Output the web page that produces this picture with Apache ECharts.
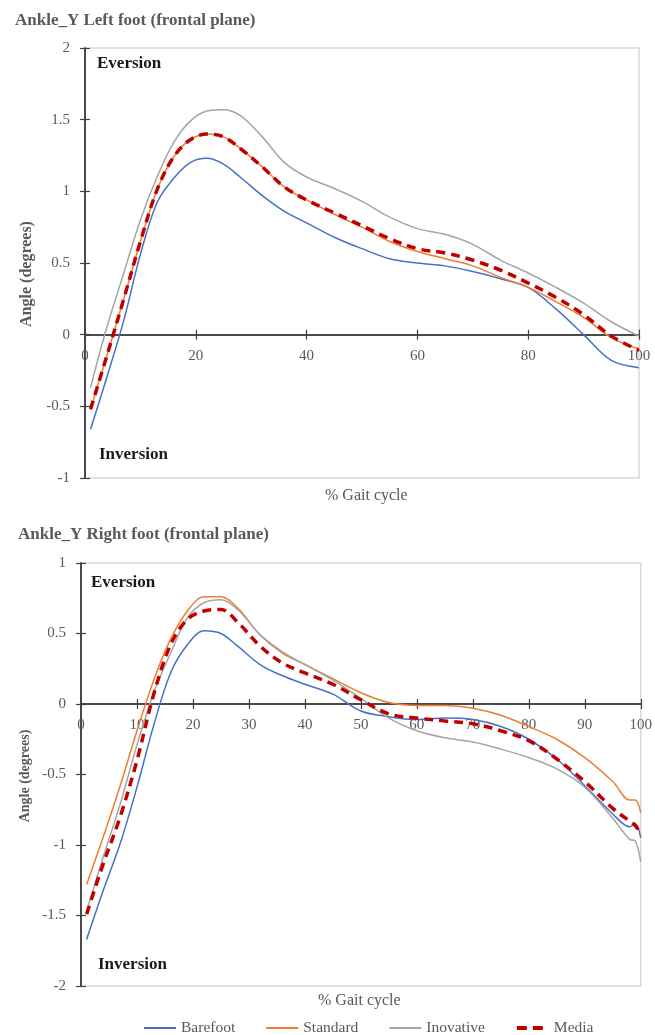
<!DOCTYPE html>
<html>
<head>
<meta charset="utf-8">
<script src="https://cdn.jsdelivr.net/npm/echarts@6/dist/echarts.min.js"></script>
<style>
html, body { margin: 0; padding: 0; background: #fff; }
#chart { width: 655px; height: 1035px; }
</style>
</head>
<body>
<div id="chart"></div>
<script>
// % gait cycle sample points
var gaitTop = [1, 4, 7, 10, 13, 16, 19, 22, 25, 28, 32, 36, 40, 45, 50, 55, 60, 65, 70, 75, 80, 85, 90, 95, 100];
var gaitBottom = [1, 4, 7, 10, 13, 16, 19, 22, 25, 28, 32, 36, 40, 45, 50, 55, 60, 65, 70, 75, 80, 85, 90, 95, 98, 99, 100];

// left foot (degrees)
var leftBarefoot = [-0.66, -0.29, 0.10, 0.56, 0.92, 1.09, 1.20, 1.23, 1.19, 1.10, 0.97, 0.86, 0.78, 0.68, 0.60, 0.53, 0.50, 0.48, 0.44, 0.39, 0.33, 0.18, 0.00, -0.18, -0.23];
var leftStandard = [-0.52, -0.14, 0.25, 0.65, 1.01, 1.24, 1.36, 1.40, 1.38, 1.30, 1.17, 1.03, 0.94, 0.84, 0.75, 0.65, 0.58, 0.53, 0.48, 0.40, 0.33, 0.23, 0.12, -0.02, -0.10];
var leftInovative = [-0.37, 0.06, 0.43, 0.80, 1.10, 1.34, 1.49, 1.56, 1.57, 1.53, 1.38, 1.20, 1.10, 1.02, 0.93, 0.82, 0.74, 0.70, 0.63, 0.52, 0.43, 0.33, 0.22, 0.09, -0.01];
var leftMedia = [-0.52, -0.14, 0.25, 0.65, 1.01, 1.24, 1.36, 1.40, 1.38, 1.30, 1.17, 1.03, 0.94, 0.85, 0.76, 0.67, 0.60, 0.57, 0.52, 0.45, 0.36, 0.26, 0.14, -0.01, -0.11];

// right foot (degrees)
var rightBarefoot = [-1.67, -1.32, -0.99, -0.59, -0.15, 0.22, 0.42, 0.52, 0.50, 0.41, 0.28, 0.20, 0.14, 0.07, -0.05, -0.09, -0.11, -0.10, -0.11, -0.16, -0.25, -0.39, -0.58, -0.78, -0.87, -0.85, -0.95];
var rightStandard = [-1.28, -0.94, -0.58, -0.19, 0.17, 0.46, 0.66, 0.76, 0.76, 0.68, 0.49, 0.36, 0.28, 0.18, 0.08, 0.01, -0.01, -0.01, -0.03, -0.08, -0.16, -0.25, -0.38, -0.55, -0.68, -0.68, -0.77];
var rightInovative = [-1.47, -1.08, -0.71, -0.29, 0.08, 0.36, 0.61, 0.72, 0.74, 0.67, 0.49, 0.37, 0.28, 0.17, 0.04, -0.10, -0.19, -0.24, -0.27, -0.32, -0.38, -0.46, -0.59, -0.81, -0.96, -0.97, -1.12];
var rightMedia = [-1.49, -1.13, -0.80, -0.40, 0.07, 0.42, 0.60, 0.66, 0.67, 0.58, 0.41, 0.29, 0.22, 0.14, 0.03, -0.07, -0.10, -0.12, -0.14, -0.19, -0.26, -0.39, -0.55, -0.74, -0.83, -0.86, -0.92];

var names = ['Barefoot', 'Standard', 'Inovative', 'Media'];
var colors = ['#4472C4', '#ED7D31', '#A5A5A5', '#C00000'];

var font = 'Liberation Serif';
var grey = '#595959';
var axisDark = '#404040';

// grid boxes (px) and where y = 0 sits above the bottom edge
var grids = [
    { left: 85, right: 16, top: 48, height: 430, zeroUp: 430 / 3 },
    { left: 81, right: 8, top: 563, height: 423, zeroUp: 423 * 2 / 3 }
];

function pairs(xs, ys) {
    return xs.map(function (x, i) { return [x, ys[i]]; });
}

function makeSeries(gridIdx, xs, lists) {
    return lists.map(function (ys, i) {
        var isMedia = i === 3;
        return {
            name: names[i],
            type: 'line',
            xAxisIndex: gridIdx * 2,
            yAxisIndex: gridIdx * 2,
            data: pairs(xs, ys),
            smooth: 0.35,
            showSymbol: false,
            symbol: 'none',
            color: colors[i],
            lineStyle: {
                color: colors[i],
                width: isMedia ? 3.5 : 1.5,
                type: isMedia ? [9, 6] : 'solid'
            },
            z: isMedia ? 5 : 3
        };
    });
}

// x axis drawn across y = 0 (offset up from the bottom edge)
function xAxes(gridIdx, interval, overlay) {
    return {
        type: 'value',
        gridIndex: gridIdx,
        position: 'bottom',
        offset: -grids[gridIdx].zeroUp,
        min: 0,
        max: 100,
        interval: interval,
        splitLine: { show: false },
        axisLine: { show: true, onZero: false, lineStyle: { color: axisDark, width: 1.5 } },
        axisTick: { show: true, inside: overlay, length: 5, lineStyle: { color: axisDark, width: 1.2 } },
        axisLabel: {
            show: !overlay,
            color: grey,
            fontFamily: font,
            fontSize: 15,
            margin: 14,
            showMinLabel: true,
            showMaxLabel: true
        }
    };
}

function yAxes(gridIdx, min, max, overlay) {
    return {
        type: 'value',
        gridIndex: gridIdx,
        position: 'left',
        min: min,
        max: max,
        interval: 0.5,
        splitLine: { show: false },
        axisLine: { show: true, onZero: false, lineStyle: { color: axisDark, width: 1.5 } },
        axisTick: { show: true, inside: overlay, length: 5, lineStyle: { color: axisDark, width: 1.2 } },
        axisLabel: { show: !overlay, color: grey, fontFamily: font, fontSize: 15, margin: 15 }
    };
}

function label(text, left, top, size, color, weight) {
    return {
        text: text,
        left: left,
        top: top,
        textStyle: { fontFamily: font, fontWeight: weight || 'bold', fontSize: size, color: color }
    };
}

function yName(x, y, size) {
    return {
        type: 'text',
        x: x,
        y: y,
        rotation: Math.PI / 2,
        style: {
            text: 'Angle (degrees)',
            fill: grey,
            font: 'bold ' + size + 'px "' + font + '"',
            align: 'center',
            verticalAlign: 'middle'
        }
    };
}

var chart = echarts.init(document.getElementById('chart'), null, { renderer: 'canvas' });

var option = {
    animation: false,
    backgroundColor: '#fff',
    title: [
        label('Ankle_Y Left foot (frontal plane)', 10, 7, 17, grey),
        label('Eversion', 92, 50, 17, '#1a1a1a'),
        label('Inversion', 94, 441, 17, '#1a1a1a'),
        label('% Gait cycle', 320, 483, 16, grey, 'normal'),
        label('Ankle_Y Right foot (frontal plane)', 13, 521, 17, grey),
        label('Eversion', 86, 569, 17, '#1a1a1a'),
        label('Inversion', 93, 951, 17, '#1a1a1a'),
        label('% Gait cycle', 313, 988, 16, grey, 'normal')
    ],
    graphic: [
        yName(27, 274, 16),
        yName(25, 776, 14)
    ],
    legend: {
        data: [
            { name: 'Barefoot' },
            { name: 'Standard' },
            { name: 'Inovative' },
            { name: 'Media', lineStyle: { width: 4, type: [10, 6] } }
        ],
        left: 138,
        top: 1015,
        itemWidth: 32,
        itemHeight: 10,
        itemGap: 30,
        itemStyle: { opacity: 0 },
        textStyle: { fontFamily: font, fontSize: 15.5, color: grey }
    },
    grid: grids.map(function (g) {
        return {
            left: g.left, right: g.right, top: g.top, height: g.height,
            show: true, borderColor: '#d9d9d9', borderWidth: 1.5, backgroundColor: 'transparent'
        };
    }),
    xAxis: [
        xAxes(0, 20, false),
        xAxes(0, 20, true),
        xAxes(1, 10, false),
        xAxes(1, 10, true)
    ],
    yAxis: [
        yAxes(0, -1, 2, false),
        yAxes(0, -1, 2, true),
        yAxes(1, -2, 1, false),
        yAxes(1, -2, 1, true)
    ],
    series: makeSeries(0, gaitTop, [leftBarefoot, leftStandard, leftInovative, leftMedia])
        .concat(makeSeries(1, gaitBottom, [rightBarefoot, rightStandard, rightInovative, rightMedia]))
};

option && chart.setOption(option);
</script>
</body>
</html>
